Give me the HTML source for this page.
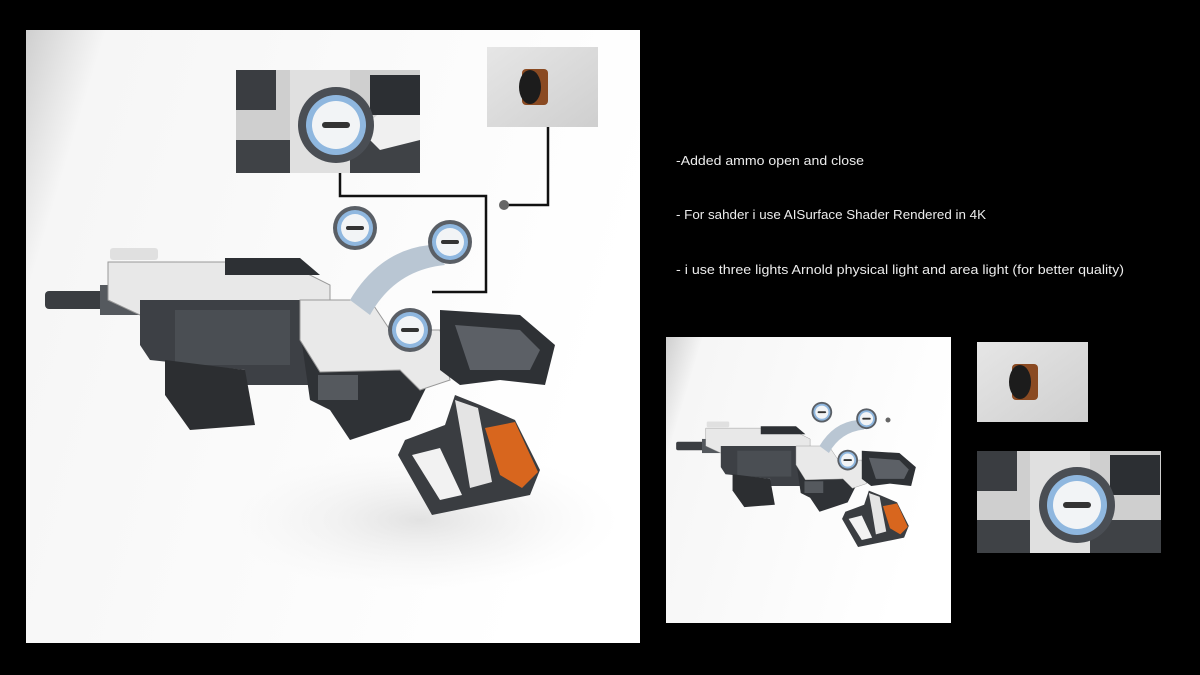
<!DOCTYPE html>
<html><head><style>
html,body{margin:0;padding:0;background:#000;}
svg{display:block}
</style></head><body>
<svg width="1200" height="675" viewBox="0 0 1200 675" xmlns="http://www.w3.org/2000/svg">
<defs>
<linearGradient id="bg" x1="0" y1="0" x2="1" y2="0.3">
<stop offset="0" stop-color="#cfcfcf"/><stop offset="0.12" stop-color="#f6f6f6"/><stop offset="1" stop-color="#ffffff"/>
</linearGradient>
<radialGradient id="shadow" cx="0.5" cy="0.5" r="0.5">
<stop offset="0" stop-color="#e2e2e2"/><stop offset="1" stop-color="#f5f5f5" stop-opacity="0"/>
</radialGradient>
<linearGradient id="inset" x1="0" y1="0" x2="1" y2="1">
<stop offset="0" stop-color="#e6e6e6"/><stop offset="1" stop-color="#cfcfcf"/>
</linearGradient>
<g id="drum">
<circle r="22" fill="#5a5f66"/>
<circle r="18" fill="#8fb7df"/>
<circle r="14" fill="#f2f4f6"/>
<rect x="-9" y="-2" width="18" height="4" rx="2" fill="#333"/>
</g>
<g id="gun">
<rect x="45" y="291" width="60" height="18" rx="4" fill="#3a3d41"/>
<rect x="100" y="285" width="40" height="30" fill="#55595e"/>
<polygon points="108,262 230,262 240,270 300,270 330,285 330,310 300,320 140,315 108,300" fill="#e8e8e8" stroke="#999" stroke-width="1"/>
<rect x="110" y="248" width="48" height="12" rx="3" fill="#e0e0e0"/>
<polygon points="225,258 300,258 320,275 225,275" fill="#2d3034"/>
<polygon points="140,300 305,300 315,385 245,385 245,370 150,360 140,345" fill="#3d4045"/>
<rect x="175" y="310" width="115" height="55" fill="#4a4e53"/>
<polygon points="165,360 245,370 255,425 190,430 165,395" fill="#2c2e31"/>
<polygon points="300,330 400,335 430,380 410,420 350,440 330,410 310,400" fill="#2f3236"/>
<rect x="318" y="375" width="40" height="25" fill="#55595e"/>
<polygon points="300,300 370,300 390,330 440,330 450,380 420,390 400,370 320,372 300,340" fill="#e9e9e9" stroke="#999" stroke-width="1"/>
<polygon points="440,310 520,315 555,345 545,385 500,380 460,385 440,370" fill="#2e3135"/>
<polygon points="455,325 520,330 540,350 530,370 470,370" fill="#5c6066"/>
<!-- grip frame -->
<path d="M455,395 L445,425 L405,440 L398,455 L432,515 L530,495 L540,470 L515,420 L480,405 Z" fill="#3a3d41"/>
<path d="M412,455 L440,448 L462,495 L440,500 Z" fill="#f2f2f2"/>
<polygon points="485,428 515,422 538,472 522,488 500,475" fill="#d8661e"/>
<polygon points="455,400 478,408 492,482 470,488 462,440" fill="#e4e4e4"/>
<path d="M350,300 Q380,250 430,245 L445,265 Q395,270 370,315 Z" fill="#b9c6d3"/>
<use href="#drum" x="410" y="330"/>
<use href="#drum" x="355" y="228"/>
<use href="#drum" x="450" y="242"/>
</g>
</defs>

<rect x="26" y="30" width="614" height="613" fill="url(#bg)"/>
<ellipse cx="420" cy="520" rx="200" ry="70" fill="url(#shadow)"/>
<use href="#gun"/>
<polyline points="340,173 340,196 486,196 486,292 432,292" fill="none" stroke="#111" stroke-width="2.5"/>
<polyline points="548,127 548,205 505,205" fill="none" stroke="#111" stroke-width="2.5"/>
<circle cx="504" cy="205" r="5" fill="#666"/>
<rect x="236" y="70" width="184" height="103" fill="#cfcfcf"/>
<rect x="236" y="140" width="184" height="33" fill="#3f4246"/>
<rect x="290" y="70" width="60" height="103" fill="#e0e0e0"/>
<polygon points="360,130 400,95 420,100 420,140 380,150" fill="#f0f0f0"/>
<rect x="370" y="75" width="50" height="40" fill="#2c2f33"/>
<circle cx="336" cy="125" r="38" fill="#4a4e54"/>
<circle cx="336" cy="125" r="30" fill="#8fb7df"/>
<circle cx="336" cy="125" r="24" fill="#f2f4f6"/>
<rect x="322" y="122" width="28" height="6" rx="3" fill="#333"/>
<rect x="236" y="70" width="40" height="40" fill="#3a3d41"/>
<rect x="487" y="47" width="111" height="80" fill="url(#inset)"/>
<rect x="522" y="69" width="26" height="36" rx="4" fill="#8a4a22"/>
<ellipse cx="530" cy="87" rx="11" ry="17" fill="#1c1c1c"/>

<g font-family="'Liberation Sans',sans-serif" font-size="13" fill="#ececec">
<text x="676" y="165" textLength="188" lengthAdjust="spacingAndGlyphs">-Added ammo open and close</text>
<text x="676" y="219" textLength="310" lengthAdjust="spacingAndGlyphs">- For sahder i use AISurface Shader Rendered in 4K</text>
<text x="676" y="274" textLength="448" lengthAdjust="spacingAndGlyphs">- i use three lights Arnold physical light and area light (for better quality)</text>
</g>

<rect x="666" y="337" width="285" height="286" fill="url(#bg)"/>
<g transform="translate(655,305) scale(0.47)"><use href="#gun"/></g>
<circle cx="888" cy="420" r="2.5" fill="#666"/>
<rect x="977" y="342" width="111" height="80" fill="url(#inset)"/>
<rect x="1012" y="364" width="26" height="36" rx="4" fill="#8a4a22"/>
<ellipse cx="1020" cy="382" rx="11" ry="17" fill="#1c1c1c"/>
<rect x="977" y="451" width="184" height="102" fill="#cfcfcf"/>
<rect x="977" y="520" width="184" height="33" fill="#3f4246"/>
<rect x="1030" y="451" width="60" height="102" fill="#e0e0e0"/>
<rect x="1110" y="455" width="50" height="40" fill="#2c2f33"/>
<circle cx="1077" cy="505" r="38" fill="#4a4e54"/>
<circle cx="1077" cy="505" r="30" fill="#8fb7df"/>
<circle cx="1077" cy="505" r="24" fill="#f2f4f6"/>
<rect x="1063" y="502" width="28" height="6" rx="3" fill="#333"/>
<rect x="977" y="451" width="40" height="40" fill="#3a3d41"/>
</svg>
</body></html>
